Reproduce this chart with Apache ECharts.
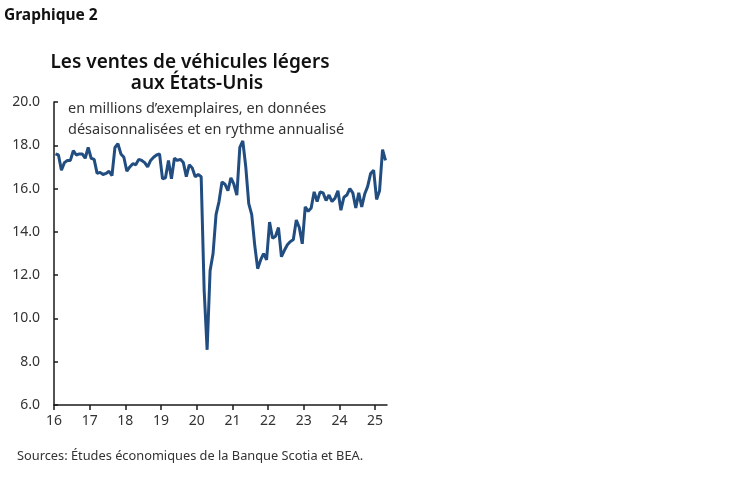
<!DOCTYPE html>
<html><head><meta charset="utf-8">
<script src="https://cdn.jsdelivr.net/npm/echarts@6/dist/echarts.min.js"></script>
<style>html,body{margin:0;padding:0;background:#fff}#c{width:749px;height:482px}</style>
</head><body><div id="c"></div>
<script>
// Monthly US light vehicle sales, millions, SAAR (Jan 2016 - Apr 2025)
const yearLabels = ['16','17','18','19','20','21','22','23','24','25'];
const sales2016 = [17.6, 17.55, 16.85, 17.2, 17.3, 17.3, 17.75, 17.55, 17.6, 17.6, 17.4, 17.9];
const sales2017 = [17.4, 17.35, 16.7, 16.75, 16.65, 16.7, 16.8, 16.6, 17.9, 18.07, 17.6, 17.45];
const sales2018 = [16.8, 17.0, 17.15, 17.1, 17.35, 17.3, 17.2, 17.0, 17.3, 17.45, 17.55, 17.6];
const sales2019 = [16.45, 16.5, 17.3, 16.45, 17.4, 17.3, 17.35, 17.2, 16.55, 17.1, 16.95, 16.55];
const sales2020 = [16.65, 16.55, 11.3, 8.55, 12.2, 13.0, 14.8, 15.4, 16.3, 16.2, 15.9, 16.5];
const sales2021 = [16.2, 15.7, 17.9, 18.2, 17.0, 15.3, 14.8, 13.4, 12.3, 12.7, 13.0, 12.7];
const sales2022 = [14.45, 13.7, 13.8, 14.2, 12.85, 13.15, 13.4, 13.55, 13.65, 14.55, 14.2, 13.45];
const sales2023 = [15.15, 14.95, 15.1, 15.85, 15.4, 15.85, 15.8, 15.45, 15.7, 15.4, 15.55, 15.9];
const sales2024 = [15.0, 15.6, 15.7, 16.0, 15.8, 15.1, 15.8, 15.15, 15.75, 16.1, 16.7, 16.85];
const sales2025 = [15.5, 15.9, 17.8, 17.3];

const allSales = [].concat(sales2016, sales2017, sales2018, sales2019, sales2020,
  sales2021, sales2022, sales2023, sales2024, sales2025);
// x = months since Jan 2016, plotted at mid-month
const seriesData = allSales.map((v, i) => [i + 0.5, v]);
const yearTicks = yearLabels.map((_, k) => k * 12);

const chart = echarts.init(document.getElementById('c'), null, {renderer: 'canvas'});
const txt = '#333333';
const fam = '"Noto Sans", "Open Sans", sans-serif';
chart.setOption({
  animation: false,
  backgroundColor: '#ffffff',
  grid: {left: 54, right: 362, top: 102, bottom: 77, containLabel: false},
  xAxis: {
    type: 'value', min: 0, max: 112, interval: 12,
    splitLine: {show: false},
    axisLine: {show: true, lineStyle: {color: '#1a1a1a', width: 1.5}},
    axisTick: {show: true, length: 5, inside: false, customValues: yearTicks,
      lineStyle: {color: '#1a1a1a', width: 1.5}},
    axisLabel: {customValues: yearTicks, color: txt, fontSize: 14, fontFamily: fam, margin: 9,
      formatter: v => yearLabels[Math.round(v / 12)] || ''}
  },
  yAxis: {
    type: 'value', min: 6, max: 20, interval: 2,
    splitLine: {show: false},
    axisLine: {show: true, lineStyle: {color: '#1a1a1a', width: 1.5}},
    axisTick: {show: true, inside: true, length: 4, lineStyle: {color: '#1a1a1a', width: 1.5}},
    axisLabel: {color: txt, fontSize: 14, fontFamily: fam, margin: 14,
      formatter: v => v.toFixed(1)}
  },
  series: [{
    type: 'line', data: seriesData, showSymbol: false, symbol: 'none',
    lineStyle: {color: '#214d80', width: 3}, z: 3
  }],
  graphic: [
    {type: 'text', left: 4, top: 8, style: {text: 'Graphique 2', font: 'bold 15.5px ' + fam, fill: '#111'}},
    {type: 'text', x: 190, y: 52, style: {text: 'Les ventes de véhicules légers',
      font: '600 19px ' + fam, fill: '#111', align: 'center', lineHeight: 21}},
    {type: 'text', x: 197, y: 73, style: {text: 'aux États-Unis',
      font: '600 19px ' + fam, fill: '#111', align: 'center', lineHeight: 21}},
    {type: 'text', x: 68, y: 98, style: {text: 'en millions d\u2019exemplaires, en données\ndésaisonnalisées et en rythme annualisé',
      font: '14.5px ' + fam, fill: txt, lineHeight: 21}},
    {type: 'text', left: 17, top: 450, style: {text: 'Sources: Études économiques de la Banque Scotia et BEA.',
      font: '12.8px ' + fam, fill: txt}}
  ]
});
</script></body></html>
